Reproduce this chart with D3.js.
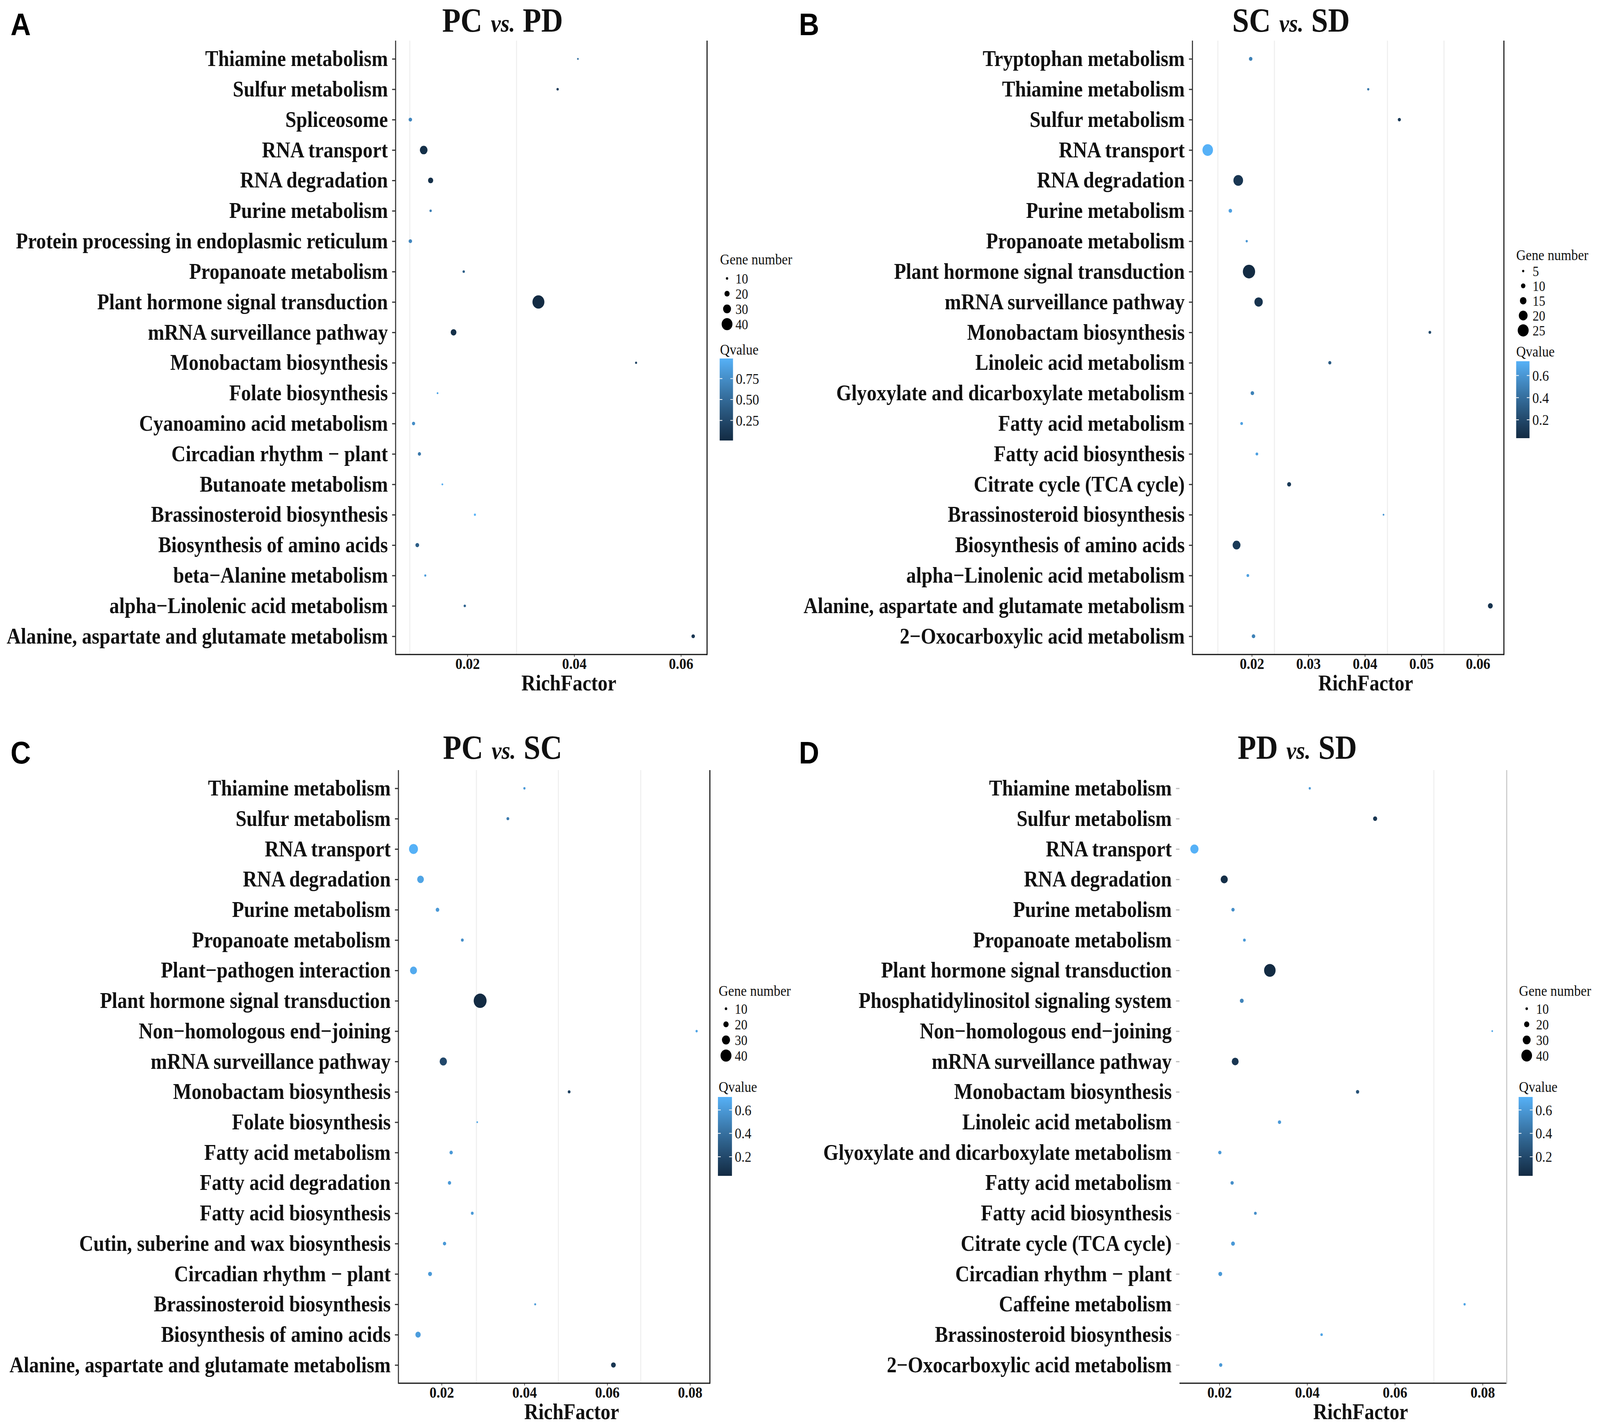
<!DOCTYPE html>
<html>
<head>
<meta charset="utf-8">
<script src="https://cdn.jsdelivr.net/npm/d3@7/dist/d3.min.js"></script>
<style>
  html, body { margin: 0; padding: 0; background: #fff; overflow: hidden; }
  svg { display: block; width: 100vw; height: 100vh; }
</style>
</head>
<body>
<svg id="chart"></svg>
<script>
// ---- Data: A (PC vs. PD) ----
const pathwaysA = ["Thiamine metabolism", "Sulfur metabolism", "Spliceosome", "RNA transport",
  "RNA degradation", "Purine metabolism", "Protein processing in endoplasmic reticulum",
  "Propanoate metabolism", "Plant hormone signal transduction", "mRNA surveillance pathway",
  "Monobactam biosynthesis", "Folate biosynthesis", "Cyanoamino acid metabolism",
  "Circadian rhythm \u2212 plant", "Butanoate metabolism", "Brassinosteroid biosynthesis",
  "Biosynthesis of amino acids", "beta\u2212Alanine metabolism", "alpha\u2212Linolenic acid metabolism",
  "Alanine, aspartate and glutamate metabolism"];
const richA = [0.0407, 0.0369, 0.0093, 0.0118, 0.0131, 0.0131, 0.0093, 0.0193, 0.0333, 0.0174,
  0.0516, 0.0144, 0.0099, 0.0110, 0.0153, 0.0214, 0.0106, 0.0121, 0.0195, 0.0623];
const genesA = [8, 10, 14, 29, 20, 10, 14, 10, 44, 22, 9, 8, 13, 13, 8, 9, 15, 9, 10, 14];
const qA = [0.55, 0.15, 0.7, 0.05, 0.05, 0.65, 0.7, 0.4, 0.01, 0.05, 0.2, 0.9, 0.75, 0.6, 0.95,
  0.99, 0.4, 0.85, 0.45, 0.1];

// ---- Data: B (SC vs. SD) ----
const pathwaysB = ["Tryptophan metabolism", "Thiamine metabolism", "Sulfur metabolism", "RNA transport",
  "RNA degradation", "Purine metabolism", "Propanoate metabolism", "Plant hormone signal transduction",
  "mRNA surveillance pathway", "Monobactam biosynthesis", "Linoleic acid metabolism",
  "Glyoxylate and dicarboxylate metabolism", "Fatty acid metabolism", "Fatty acid biosynthesis",
  "Citrate cycle (TCA cycle)", "Brassinosteroid biosynthesis", "Biosynthesis of amino acids",
  "alpha\u2212Linolenic acid metabolism", "Alanine, aspartate and glutamate metabolism",
  "2\u2212Oxocarboxylic acid metabolism"];
const richB = [0.0198, 0.0406, 0.0461, 0.0122, 0.0176, 0.0162, 0.0191, 0.0195, 0.0212, 0.0515,
  0.0338, 0.0201, 0.0182, 0.0209, 0.0266, 0.0433, 0.0173, 0.0193, 0.0622, 0.0203];
const genesB = [8, 5, 7, 24, 22, 8, 5, 28, 19, 6, 7, 8, 6, 6, 9, 4, 18, 6, 11, 8];
const qB = [0.5, 0.45, 0.12, 0.729, 0.1, 0.65, 0.6, 0.034, 0.08, 0.2, 0.3, 0.5, 0.65, 0.65, 0.12,
  0.6, 0.12, 0.65, 0.08, 0.5];

// ---- Data: C (PC vs. SC) ----
const pathwaysC = ["Thiamine metabolism", "Sulfur metabolism", "RNA transport", "RNA degradation",
  "Purine metabolism", "Propanoate metabolism", "Plant\u2212pathogen interaction",
  "Plant hormone signal transduction", "Non\u2212homologous end\u2212joining", "mRNA surveillance pathway",
  "Monobactam biosynthesis", "Folate biosynthesis", "Fatty acid metabolism", "Fatty acid degradation",
  "Fatty acid biosynthesis", "Cutin, suberine and wax biosynthesis", "Circadian rhythm \u2212 plant",
  "Brassinosteroid biosynthesis", "Biosynthesis of amino acids",
  "Alanine, aspartate and glutamate metabolism"];
const richC = [0.0400, 0.0360, 0.0132, 0.0149, 0.0190, 0.0250, 0.0132, 0.0293, 0.0816, 0.0204,
  0.0508, 0.0286, 0.0223, 0.0219, 0.0274, 0.0207, 0.0172, 0.0426, 0.0143, 0.0615];
const genesC = [9, 11, 33, 25, 14, 11, 26, 47, 9, 27, 11, 7, 13, 13, 11, 13, 15, 8, 20, 18];
const qC = [0.6, 0.45, 0.711, 0.65, 0.6, 0.55, 0.68, 0.037, 0.65, 0.2, 0.15, 0.65, 0.6, 0.6, 0.6,
  0.6, 0.6, 0.6, 0.62, 0.1];

// ---- Data: D (PD vs. SD) ----
const pathwaysD = ["Thiamine metabolism", "Sulfur metabolism", "RNA transport", "RNA degradation",
  "Purine metabolism", "Propanoate metabolism", "Plant hormone signal transduction",
  "Phosphatidylinositol signaling system", "Non\u2212homologous end\u2212joining",
  "mRNA surveillance pathway", "Monobactam biosynthesis", "Linoleic acid metabolism",
  "Glyoxylate and dicarboxylate metabolism", "Fatty acid metabolism", "Fatty acid biosynthesis",
  "Citrate cycle (TCA cycle)", "Circadian rhythm \u2212 plant", "Caffeine metabolism",
  "Brassinosteroid biosynthesis", "2\u2212Oxocarboxylic acid metabolism"];
const richD = [0.0406, 0.0555, 0.0143, 0.0211, 0.0231, 0.0257, 0.0315, 0.0251, 0.0822, 0.0236,
  0.0515, 0.0337, 0.0201, 0.0229, 0.0282, 0.0231, 0.0202, 0.0759, 0.0433, 0.0203];
const genesD = [9, 16, 31, 27, 13, 11, 43, 15, 7, 26, 13, 13, 13, 13, 11, 15, 15, 9, 10, 13];
const qD = [0.6, 0.1, 0.711, 0.06, 0.55, 0.6, 0.037, 0.5, 0.65, 0.1, 0.25, 0.6, 0.6, 0.55, 0.55,
  0.6, 0.6, 0.65, 0.65, 0.6];

// ---- Ticks / legend breaks ----
const ticksA = [0.02, 0.04, 0.06];
const ticksB = [0.02, 0.03, 0.04, 0.05, 0.06];
const ticksCD = [0.02, 0.04, 0.06, 0.08];
const geneBreaksA = [10, 20, 30, 40];
const geneBreaksB = [5, 10, 15, 20, 25];
const geneBreaksCD = [10, 20, 30, 40];
const qBreaksA = [0.25, 0.5, 0.75];
const qBreaksBCD = [0.2, 0.4, 0.6];
// faint vertical lines left in the panels
const gridA = [0.0092, 0.0292];
const gridB = [0.014, 0.024, 0.044, 0.054];
const gridC = [0.0284, 0.0482, 0.0681];
const gridD = [0.0689];

const SERIF = "'Liberation Serif', 'Times New Roman', serif";
const SANS = "'Liberation Sans', Arial, sans-serif";

const W = 4562, H = 3649;
const svg = d3.select("#chart")
  .attr("viewBox", "0 0 " + W + " " + H)
  .attr("preserveAspectRatio", "none");
svg.append("rect").attr("width", W).attr("height", H).attr("fill", "#fff");

const panels = [
  { id: "A", title: ["PC", "PD"], titleX: 1433, titleY: 81, letterX: 30, letterY: 90,
    pathways: pathwaysA, rich: richA, genes: genesA, q: qA, ticks: ticksA, grid: gridA,
    geneBreaks: geneBreaksA, qBreaks: qBreaksA, qFmt: ".2f",
    left: 1128, right: 2016, top: 104, bottom: 1676, xDomain: [0.00654, 0.0649], rRange: [2.5, 17],
    leg: { x: 2053, geneTitleY: 677, geneY0: 713, step: 39, dotX: 2073, labelX: 2097,
           qTitleY: 908, barTop: 918, barBottom: 1128, barX: 2052, barW: 38 },
    leftLine: true, rightColor: "#111", tickColor: "#333" },
  { id: "B", title: ["SC", "SD"], titleX: 3681, titleY: 81, letterX: 2278, letterY: 90,
    pathways: pathwaysB, rich: richB, genes: genesB, q: qB, ticks: ticksB, grid: gridB,
    geneBreaks: geneBreaksB, qBreaks: qBreaksBCD, qFmt: ".1f",
    left: 3400, right: 4288, top: 104, bottom: 1676, xDomain: [0.0095, 0.0646], rRange: [2.5, 17.5],
    leg: { x: 4323, geneTitleY: 666, geneY0: 694, step: 38, dotX: 4343, labelX: 4370,
           qTitleY: 913, barTop: 925, barBottom: 1122, barX: 4323, barW: 38 },
    leftLine: true, rightColor: "#111", tickColor: "#333" },
  { id: "C", title: ["PC", "SC"], titleX: 1433, titleY: 1943, letterX: 30, letterY: 1955,
    pathways: pathwaysC, rich: richC, genes: genesC, q: qC, ticks: ticksCD, grid: gridC,
    geneBreaks: geneBreaksCD, qBreaks: qBreaksBCD, qFmt: ".1f",
    left: 1136, right: 2024, top: 1972, bottom: 3542, xDomain: [0.00956, 0.0848], rRange: [2.3, 18.4],
    leg: { x: 2049, geneTitleY: 2550, geneY0: 2583, step: 40, dotX: 2070, labelX: 2095,
           qTitleY: 2796, barTop: 2809, barBottom: 3011, barX: 2047, barW: 40 },
    leftLine: true, rightColor: "#111", tickColor: "#333" },
  { id: "D", title: ["PD", "SD"], titleX: 3699, titleY: 1943, letterX: 2278, letterY: 1955,
    pathways: pathwaysD, rich: richD, genes: genesD, q: qD, ticks: ticksCD, grid: gridD,
    geneBreaks: geneBreaksCD, qBreaks: qBreaksBCD, qFmt: ".1f",
    left: 3363, right: 4296, top: 1972, bottom: 3542, xDomain: [0.0109, 0.0855], rRange: [2.3, 16.4],
    leg: { x: 4331, geneTitleY: 2550, geneY0: 2583, step: 40, dotX: 4353, labelX: 4380,
           qTitleY: 2796, barTop: 2809, barBottom: 3011, barX: 4330, barW: 40 },
    leftLine: false, rightColor: "#c8c8c8", tickColor: "#bbb" }
];

function drawPanel(p) {
  const g = svg.append("g").attr("class", "panel-" + p.id);

  const x = d3.scaleLinear().domain(p.xDomain).range([p.left, p.right]);
  const y = d3.scalePoint().domain(p.pathways).range([p.top, p.bottom]).padding(0.6);
  const r = d3.scaleLinear().domain(d3.extent(p.genes)).range(p.rRange);
  const qExt = d3.extent(p.q);
  const color = d3.scaleLinear().domain(qExt).range(["#132B43", "#56B1F7"])
    .interpolate(d3.interpolateLab);

  // faint grid
  g.append("g").selectAll("line").data(p.grid).join("line")
    .attr("x1", d => x(d)).attr("x2", d => x(d))
    .attr("y1", p.top).attr("y2", p.bottom)
    .attr("stroke", "#efefef").attr("stroke-width", 3);

  // y axis (labels + ticks)
  const yAxis = g.append("g")
    .attr("transform", "translate(" + p.left + ",0)")
    .call(d3.axisLeft(y).tickSize(10).tickPadding(12));
  yAxis.attr("font-family", SERIF).attr("font-size", 56).attr("font-weight", "bold");
  yAxis.select(".domain").remove();
  yAxis.selectAll(".tick line").attr("stroke", p.tickColor).attr("stroke-width", 3);
  yAxis.selectAll(".tick text").attr("fill", "#111");

  // x axis
  const xAxis = g.append("g")
    .attr("transform", "translate(0," + p.bottom + ")")
    .call(d3.axisBottom(x).tickValues(p.ticks).tickFormat(d3.format(".2f"))
      .tickSize(6).tickPadding(3));
  xAxis.attr("font-family", SERIF).attr("font-size", 40).attr("font-weight", "bold");
  xAxis.select(".domain").remove();
  xAxis.selectAll(".tick line").attr("stroke", "#555").attr("stroke-width", 2);
  xAxis.selectAll(".tick text").attr("fill", "#111");

  // panel border lines
  g.append("line").attr("x1", p.left).attr("x2", p.right)
    .attr("y1", p.bottom).attr("y2", p.bottom)
    .attr("stroke", "#111").attr("stroke-width", 3);
  if (p.leftLine) {
    g.append("line").attr("x1", p.left).attr("x2", p.left)
      .attr("y1", p.top).attr("y2", p.bottom + 1.5)
      .attr("stroke", "#333").attr("stroke-width", 3);
  }
  g.append("line").attr("x1", p.right).attr("x2", p.right)
    .attr("y1", p.top).attr("y2", p.bottom + 1.5)
    .attr("stroke", p.rightColor).attr("stroke-width", 3);

  // points
  g.append("g").selectAll("circle").data(d3.range(p.pathways.length)).join("circle")
    .attr("cx", i => x(p.rich[i]))
    .attr("cy", i => y(p.pathways[i]))
    .attr("r", i => r(p.genes[i]))
    .attr("fill", i => color(p.q[i]));

  // x axis title
  g.append("text")
    .attr("x", (p.left + p.right) / 2 + 50).attr("y", p.bottom + 92)
    .attr("text-anchor", "middle")
    .attr("font-family", SERIF).attr("font-size", 56).attr("font-weight", "bold")
    .attr("fill", "#111").text("RichFactor");

  // title
  const t = g.append("text")
    .attr("x", p.titleX).attr("y", p.titleY)
    .attr("text-anchor", "middle")
    .attr("font-family", SERIF).attr("font-size", 86).attr("font-weight", "bold")
    .attr("fill", "#111");
  t.append("tspan").text(p.title[0]);
  t.append("tspan").attr("dx", 24).attr("font-style", "italic").attr("font-size", 64).text("vs.");
  t.append("tspan").attr("dx", 22).text(p.title[1]);

  // panel letter
  g.append("text")
    .attr("x", p.letterX).attr("y", p.letterY)
    .attr("font-family", SANS).attr("font-size", 80).attr("font-weight", "bold")
    .attr("fill", "#000").text(p.id);

  // ---- legends ----
  const L = p.leg;
  const leg = g.append("g").attr("font-family", SERIF).attr("fill", "#111");
  leg.append("text").attr("x", L.x).attr("y", L.geneTitleY)
    .attr("font-size", 38).text("Gene number");
  const entries = leg.selectAll("g.entry").data(p.geneBreaks).join("g").attr("class", "entry")
    .attr("transform", (d, i) => "translate(0," + (L.geneY0 + i * L.step) + ")");
  entries.append("circle").attr("cx", L.dotX).attr("cy", 0).attr("r", d => r(d)).attr("fill", "#000");
  entries.append("text").attr("x", L.labelX).attr("y", 0).attr("dy", "0.35em")
    .attr("font-size", 36).text(d => d);

  leg.append("text").attr("x", L.x).attr("y", L.qTitleY)
    .attr("font-size", 38).text("Qvalue");

  const gradId = "grad" + p.id;
  const grad = svg.append("defs").append("linearGradient").attr("id", gradId)
    .attr("x1", 0).attr("x2", 0).attr("y1", 1).attr("y2", 0);
  grad.selectAll("stop").data(d3.range(0, 1.0001, 0.1)).join("stop")
    .attr("offset", d => d)
    .attr("stop-color", d => color(qExt[0] + d * (qExt[1] - qExt[0])));
  leg.append("rect").attr("x", L.barX).attr("y", L.barTop)
    .attr("width", L.barW).attr("height", L.barBottom - L.barTop)
    .attr("fill", "url(#" + gradId + ")");

  const yq = d3.scaleLinear().domain(qExt).range([L.barBottom, L.barTop]);
  const qt = leg.selectAll("g.qtick").data(p.qBreaks).join("g").attr("class", "qtick");
  qt.append("line").attr("x1", L.barX).attr("x2", L.barX + L.barW / 5)
    .attr("y1", d => yq(d)).attr("y2", d => yq(d)).attr("stroke", "#fff").attr("stroke-width", 2);
  qt.append("line").attr("x1", L.barX + L.barW * 4 / 5).attr("x2", L.barX + L.barW)
    .attr("y1", d => yq(d)).attr("y2", d => yq(d)).attr("stroke", "#fff").attr("stroke-width", 2);
  qt.append("text").attr("x", L.barX + L.barW + 8).attr("y", d => yq(d)).attr("dy", "0.35em")
    .attr("font-size", 38).text(d => d3.format(p.qFmt)(d));
}

panels.forEach(drawPanel);
</script>
</body>
</html>
